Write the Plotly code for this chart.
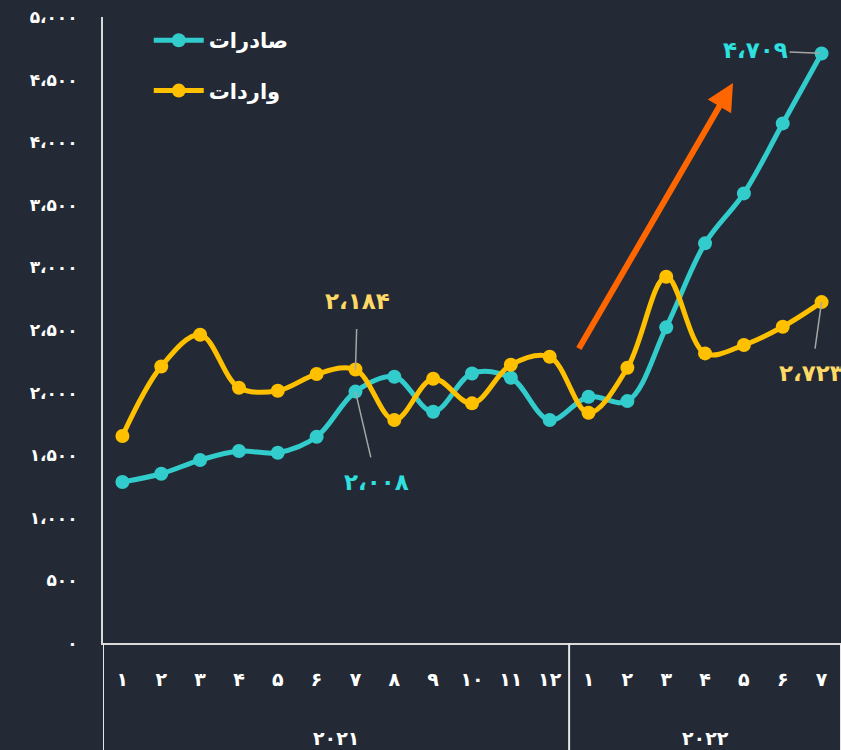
import plotly.graph_objects as go

year_labels = ["۲۰۲۱", "۲۰۲۲"]
year_counts = [12, 7]
months = ["۱", "۲", "۳", "۴", "۵", "۶", "۷", "۸", "۹", "۱۰", "۱۱", "۱۲",
          "۱", "۲", "۳", "۴", "۵", "۶", "۷"]

exports = [1286, 1352, 1461, 1533, 1520, 1647, 2008, 2126, 1847, 2153, 2119, 1781,
           1967, 1932, 2521, 3192, 3591, 4150, 4709]
imports = [1653, 2209, 2462, 2039, 2015, 2148, 2184, 1781, 2111, 1914, 2222, 2286,
           1839, 2198, 2925, 2313, 2380, 2526, 2723]

ytick_vals = [0, 500, 1000, 1500, 2000, 2500, 3000, 3500, 4000, 4500, 5000]
ytick_text = ["۰", "۵۰۰", "۱،۰۰۰", "۱،۵۰۰", "۲،۰۰۰", "۲،۵۰۰", "۳،۰۰۰",
              "۳،۵۰۰", "۴،۰۰۰", "۴،۵۰۰", "۵،۰۰۰"]

name_exports = "صادرات"
name_imports = "واردات"

BG = "#232a35"
TEAL = "#33cccc"
YELLOW = "#ffc000"
TEAL_LBL = "#2fe0e0"
YELLOW_LBL = "#ffd966"
FONT = "DejaVu Sans"

n = len(months)
xi = list(range(n))

fig = go.Figure()
fig.add_trace(go.Scatter(
    x=xi, y=exports, name=name_exports, mode="lines+markers",
    line=dict(color=TEAL, width=5, shape="spline", smoothing=1),
    marker=dict(color=TEAL, size=14), legendgroup="a", cliponaxis=False,
))
fig.add_trace(go.Scatter(
    x=xi, y=imports, name=name_imports, mode="lines+markers",
    line=dict(color=YELLOW, width=5, shape="spline", smoothing=1),
    marker=dict(color=YELLOW, size=14), legendgroup="b", cliponaxis=False,
))


def fmt(v):
    d = "۰۱۲۳۴۵۶۷۸۹"
    s = f"{v:,}".replace(",", "،")
    return "".join(d[int(c)] if c.isdigit() else c for c in s)


LBL = 23
ann = []
ann.append(dict(x=18, y=exports[18], xref="x", yref="y", text=fmt(exports[18]),
                showarrow=True, arrowhead=0, arrowwidth=1.5, arrowcolor="#a6a6a6",
                ax=-66, ay=-3, standoff=2,
                font=dict(color=TEAL_LBL, size=LBL, family=FONT, weight="bold")))
ann.append(dict(x=6, y=imports[6], xref="x", yref="y", text=fmt(imports[6]),
                showarrow=True, arrowhead=0, arrowwidth=1.5, arrowcolor="#a6a6a6",
                ax=2, ay=-69, startstandoff=14,
                font=dict(color=YELLOW_LBL, size=LBL, family=FONT, weight="bold")))
ann.append(dict(x=6, y=exports[6], xref="x", yref="y", text=fmt(exports[6]),
                showarrow=True, arrowhead=0, arrowwidth=1.5, arrowcolor="#a6a6a6",
                ax=21, ay=90, startstandoff=10,
                font=dict(color=TEAL_LBL, size=LBL, family=FONT, weight="bold")))
ann.append(dict(x=18, y=imports[18], xref="x", yref="y", text=fmt(imports[18]),
                showarrow=True, arrowhead=0, arrowwidth=1.5, arrowcolor="#a6a6a6",
                ax=-10, ay=71, startstandoff=10,
                font=dict(color=YELLOW_LBL, size=LBL, family=FONT, weight="bold")))
# orange trend arrow
ann.append(dict(x=(733 - 103) / 738, y=(643 - 83) / 626, xref="paper", yref="paper",
                text="", showarrow=True, arrowhead=2, arrowsize=0.9, arrowwidth=6,
                arrowcolor="#ff6600", ax=-155, ay=267))

# year labels and group dividers
shapes = []
start = 0
bounds = [-0.5]
for lab, cnt in zip(year_labels, year_counts):
    center = start + (cnt - 1) / 2
    ann.append(dict(x=center, y=-0.152, xref="x", yref="paper", text=lab,
                    showarrow=False, yanchor="middle",
                    font=dict(color="white", size=19, family=FONT, weight="bold")))
    start += cnt
    bounds.append(start - 0.5)
for b in bounds:
    shapes.append(dict(type="line", x0=b, x1=b, xref="x", y0=0, y1=-0.2, yref="paper",
                       line=dict(color="#e6e6e6", width=2)))

fig.update_layout(
    width=841, height=750,
    paper_bgcolor=BG, plot_bgcolor=BG,
    margin=dict(l=103, r=0, t=17, b=107, autoexpand=False),
    font=dict(family=FONT, color="white"),
    showlegend=True,
    legend=dict(x=0.062, y=0.995, xanchor="left", yanchor="top",
                bgcolor="rgba(0,0,0,0)", traceorder="grouped", tracegroupgap=20,
                itemwidth=50,
                font=dict(size=21, color="white", family=FONT, weight="bold")),
    annotations=ann,
    shapes=shapes,
)
fig.update_yaxes(
    range=[0, 5000], tickvals=ytick_vals, ticktext=ytick_text,
    showgrid=False, zeroline=False, showline=True, linecolor="#d9d9d9", linewidth=2,
    ticks="", ticklabelstandoff=20,
    tickfont=dict(size=17, color="white", family=FONT, weight="bold"),
)
fig.update_xaxes(
    range=[-0.5, n - 0.5], tickvals=xi, ticktext=months,
    showgrid=False, zeroline=False, showline=True, linecolor="#d9d9d9", linewidth=2,
    ticks="", ticklabelstandoff=18,
    tickfont=dict(size=19, color="white", family=FONT, weight="bold"),
)

fig.write_html("out.html", post_script="document.body.style.margin='0';",
               config={"displayModeBar": False})
